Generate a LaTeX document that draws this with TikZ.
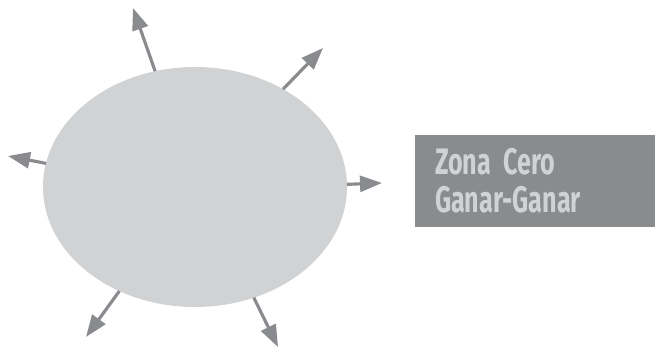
\documentclass[tikz,border=0pt]{standalone}
\usepackage{fontspec}
\newfontfamily\zonafont[FakeStretch=0.68]{Fira Sans}
\usetikzlibrary{arrows.meta,shapes.geometric}

\definecolor{zonafill}{RGB}{209,210,212}
\definecolor{arrowgray}{RGB}{138,139,143}
\DeclareRobustCommand\zonatext{%
  \zonafont\bfseries\fontsize{21}{21.5}\selectfont\spaceskip=0.16em\relax}

\begin{document}
\begin{tikzpicture}[>={Triangle[length=0.44cm,width=0.32cm]},
    outarrow/.style={->, draw=arrowgray, fill=arrowgray, line width=1.8pt},
    label box/.style={fill=arrowgray, text=zonafill, align=left,
      text width=4.0cm, inner xsep=0.4cm, minimum height=1.84cm,
      font=\zonatext}]
  \useasboundingbox (0,0) rectangle (13.1,6.98);

  % central zone
  \node[ellipse, fill=zonafill, inner sep=0pt, outer sep=0pt,
    minimum width=6.08cm, minimum height=4.8cm] (zona) at (3.90,3.24) {};

  % free ends of the arrows
  \coordinate (n1) at (2.66,6.82);
  \coordinate (n2) at (6.46,6.02);
  \coordinate (n3) at (0.16,3.86);
  \coordinate (n4) at (7.64,3.32);
  \coordinate (n5) at (1.72,0.24);
  \coordinate (n6) at (5.56,0.04);

  \draw[outarrow] (zona.109) -- (n1);
  \draw[outarrow] (zona.48) -- (n2);
  \draw[outarrow] (zona.171) -- (n3);
  \draw[outarrow] (zona.1) -- (n4);
  \draw[outarrow] (zona.234) -- (n5);
  \draw[outarrow] (zona.298) -- (n6);

  \node[label box] (cero) at (10.70,3.36) {Zona Cero\\Ganar-Ganar};
\end{tikzpicture}
\end{document}
